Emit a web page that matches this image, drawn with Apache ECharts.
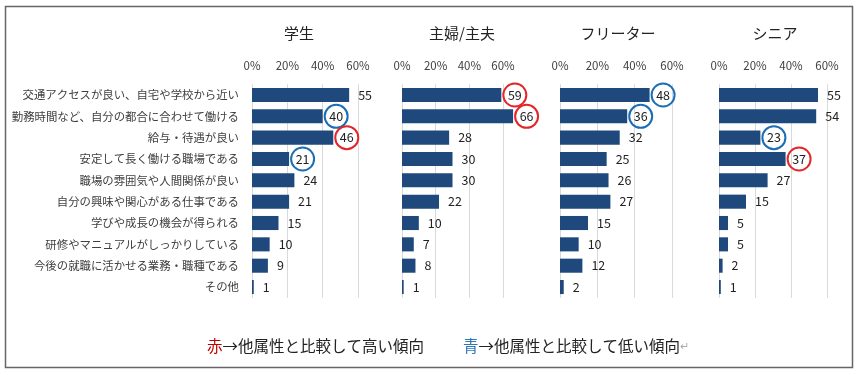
<!DOCTYPE html>
<html><head><meta charset="utf-8">
<script src="https://cdn.jsdelivr.net/npm/echarts@6/dist/echarts.min.js"></script>
<style>html,body{margin:0;padding:0;background:#fff}#c{width:860px;height:375px}</style>
</head><body><div id="c"></div>
<script>
const categories = ['交通アクセスが良い、自宅や学校から近い','勤務時間など、自分の都合に合わせて働ける','給与・待遇が良い','安定して長く働ける職場である','職場の雰囲気や人間関係が良い','自分の興味や関心がある仕事である','学びや成長の機会が得られる','研修やマニュアルがしっかりしている','今後の就職に活かせる業務・職種である','その他'];
const panelTitles = ['学生','主婦/主夫','フリーター','シニア'];
const valsStudent = [55,40,46,21,24,21,15,10,9,1];
const valsHomemaker = [59,66,28,30,30,22,10,7,8,1];
const valsFreeter = [48,36,32,25,26,27,15,10,12,2];
const valsSenior = [55,54,23,37,27,15,5,5,2,1];
// r = higher than other groups (red circle), b = lower (blue circle)
const marksStudent = ['','b','r','b','','','','','',''];
const marksHomemaker = ['r','r','','','','','','','',''];
const marksFreeter = ['b','b','','','','','','','',''];
const marksSenior = ['','','b','r','','','','','',''];
const xTicks = [0,20,40,60];

const values = [valsStudent, valsHomemaker, valsFreeter, valsSenior];
const marks = [marksStudent, marksHomemaker, marksFreeter, marksSenior];
const gridLeft = [252, 402, 560, 719];
const gridWidth = [106, 101, 112, 108];
const titleX = [299, 462, 618, 775];
const FONT = '"Noto Sans CJK JP", "Noto Sans", sans-serif';
const circleColor = {r:'#e3262a', b:'#1b6db5'};

const grids = [], xAxes = [], yAxes = [], series = [];
for (let i = 0; i < 4; i++) {
  grids.push({left: gridLeft[i], width: gridWidth[i], top: 84.3, height: 213.4});
  xAxes.push({
    type:'value', gridIndex:i, position:'top', min:0, max:xTicks[xTicks.length-1], interval:20,
    axisLine:{show:false}, axisTick:{show:false},
    axisLabel:{formatter:'{value}%', color:'#404040', fontSize:11.5, fontFamily:FONT, margin:13},
    splitLine:{show:true, lineStyle:{color:'#d9d9d9', width:1}}
  });
  yAxes.push({
    type:'category', gridIndex:i, data:categories, inverse:true,
    axisLine:{show:false}, axisTick:{show:false},
    axisLabel:{show:i===0, color:'#404040', fontSize:11.4, fontFamily:FONT, margin:13}
  });
  const data = values[i].map((v, k) => {
    const m = marks[i][k];
    if (m) {
      return {value:v, label:{distance:2, formatter:'{c|' + v + '}',
        rich:{c:{width:23, height:23, lineHeight:23, borderRadius:13, borderWidth:2,
          borderColor:circleColor[m], align:'center', fontSize:12.5, color:'#222', fontFamily:FONT}}}};
    }
    return {value:v};
  });
  series.push({
    type:'bar', xAxisIndex:i, yAxisIndex:i, data:data, barCategoryGap:'34%', clip:false,
    itemStyle:{color:'#1f497d'},
    label:{show:true, position:'right', distance:9, color:'#222', fontSize:12.5, fontFamily:FONT},
    animation:false
  });
}

const graphics = [
  {type:'rect', shape:{x:5.5, y:6.5, width:847, height:361}, style:{fill:'none', stroke:'#666', lineWidth:1.5}, silent:true}
];
for (let i = 0; i < 4; i++) {
  graphics.push({type:'text', x:titleX[i], y:33, style:{text:panelTitles[i], fill:'#222', font:'15px ' + FONT, textAlign:'center', textVerticalAlign:'middle'}});
}
graphics.push({type:'text', x:207, y:346, style:{
  text:'{r|赤}→他属性と比較して高い傾向', font:'15.5px ' + FONT, fill:'#222', textVerticalAlign:'middle',
  rich:{r:{fill:'#c00000', font:'15.5px ' + FONT}}}});
graphics.push({type:'text', x:463, y:346, style:{
  text:'{b|青}→他属性と比較して低い傾向{g|↵}', font:'15.5px ' + FONT, fill:'#222', textVerticalAlign:'middle',
  rich:{b:{fill:'#2e75b6', font:'15.5px ' + FONT}, g:{fill:'#aaa', font:'11px ' + FONT}}}});

const chart = echarts.init(document.getElementById('c'), null, {renderer:'canvas'});
chart.setOption({
  animation:false,
  grid:grids, xAxis:xAxes, yAxis:yAxes, series:series, graphic:graphics
});
</script></body></html>
